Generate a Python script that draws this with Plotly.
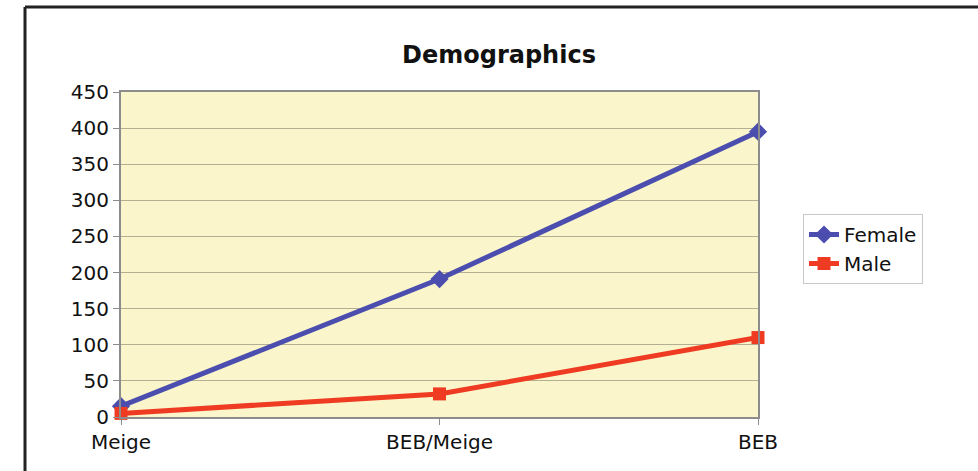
import plotly.graph_objects as go

categories = ["Meige", "BEB/Meige", "BEB"]
female = [15, 191, 395]
male = [5, 32, 110]
y_ticks = [0, 50, 100, 150, 200, 250, 300, 350, 400, 450]

W, H = 978, 471
L, R, T, B = 121, 758, 92, 417
pw, ph = R - L, B - T

def px(x):
    return (x - L) / pw

def py(y):
    return (B - y) / ph

xs = list(range(len(categories)))
font = "DejaVu Sans, Arial, sans-serif"

fig = go.Figure()
fig.add_trace(go.Scatter(
    x=xs, y=female, name="Female", mode="lines+markers",
    line=dict(color="#4B4EAE", width=5),
    marker=dict(symbol="diamond", size=14, color="#4B4EAE"),
    cliponaxis=False,
))
fig.add_trace(go.Scatter(
    x=xs, y=male, name="Male", mode="lines+markers",
    line=dict(color="#EE3B22", width=5),
    marker=dict(symbol="square", size=13, color="#EE3B22"),
    cliponaxis=False,
))

fig.update_layout(
    width=W, height=H,
    margin=dict(l=L, r=W - R, t=T, b=H - B),
    paper_bgcolor="white",
    plot_bgcolor="#FAF5CB",
    title=dict(text="<b>Demographics</b>", x=499 / W, xanchor="center",
               y=1 - 55 / H, yanchor="middle",
               font=dict(family=font, size=24, color="#111")),
    font=dict(family=font, size=20, color="#111"),
    showlegend=True,
    legend=dict(x=px(803), y=py(214), xanchor="left", yanchor="top",
                bordercolor="#C8C8C8", borderwidth=1, bgcolor="white",
                font=dict(family=font, size=20, color="#111"),
                itemwidth=30),
    xaxis=dict(
        range=[0, len(categories) - 1], tickmode="array", tickvals=xs,
        ticktext=categories, showgrid=False, zeroline=False,
        showline=True, linecolor="#8C8C8C", linewidth=2, mirror=True,
        ticks="outside", ticklen=6, tickcolor="#8C8C8C",
        tickfont=dict(family=font, size=20, color="#111"),
    ),
    yaxis=dict(
        range=[0, 450], tickmode="array", tickvals=y_ticks,
        showgrid=True, gridcolor="#B4AE94", gridwidth=1, zeroline=False,
        showline=True, linecolor="#8C8C8C", linewidth=2, mirror=True,
        ticks="outside", ticklen=6, tickcolor="#8C8C8C",
        tickfont=dict(family=font, size=20, color="#111"),
    ),
    shapes=[
        dict(type="line", xref="paper", yref="paper",
             x0=px(25), x1=px(1000), y0=py(7), y1=py(7),
             line=dict(color="#222", width=3)),
        dict(type="line", xref="paper", yref="paper",
             x0=px(25), x1=px(25), y0=py(7), y1=py(500),
             line=dict(color="#222", width=3)),
    ],
)

fig.write_html("out.html", config={"displayModeBar": False},
               post_script="document.body.style.margin='0';document.body.style.overflow='hidden';")
